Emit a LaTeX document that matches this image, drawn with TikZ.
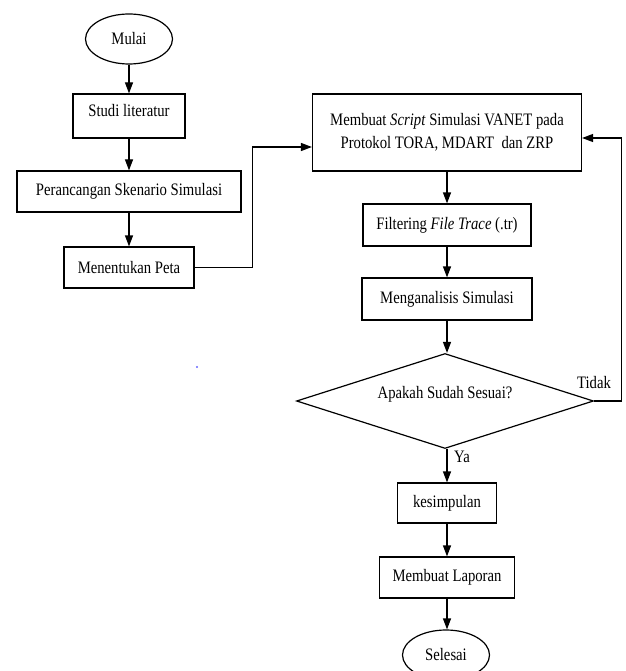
\documentclass[tikz,border=0pt]{standalone}
\usepackage{fontspec}
\setmainfont{Liberation Serif}[FakeStretch=0.84]
\usetikzlibrary{shapes.geometric, arrows.meta, calc}
\newcommand\flowfont{\fontsize{17.5}{23}\selectfont}

\begin{document}
\begin{tikzpicture}[x=1pt, y=-1pt,
  box/.style={draw, line width=1.2pt, rectangle, inner sep=0pt, font=\flowfont, align=center},
  terminal/.style={draw, line width=1.2pt, ellipse, inner sep=0pt, minimum width=87pt, minimum height=50pt, font=\flowfont},
  decision/.style={draw, line width=1.2pt, diamond, aspect=3.1, inner sep=0pt, minimum width=297pt, minimum height=95pt, font=\flowfont},
  arr/.style={line width=1.2pt, -{Triangle[length=11pt, width=8pt]}},
  lbl/.style={font=\flowfont}]
  \useasboundingbox (0,0) rectangle (625,671);

  % Left column
  \node[terminal] (mulai) at (129,39) {Mulai};
  \node[box, minimum width=112pt, minimum height=44pt, text depth=12pt] (studi) at (129,116) {Studi literatur};
  \node[box, minimum width=224pt, minimum height=41pt] (rancang) at (129,191.5) {Perancangan Skenario Simulasi};
  \node[box, minimum width=130pt, minimum height=41pt] (peta) at (129,267.5) {Menentukan Peta};

  % Right column
  \node[box, minimum width=269pt, minimum height=77pt] (script) at (447,132.5)
    {Membuat \textit{Script} Simulasi VANET pada\\Protokol TORA, MDART\ \ dan ZRP};
  \node[box, minimum width=168pt, minimum height=42pt] (filter) at (447,225) {Filtering \textit{File Trace} (.tr)};
  \node[box, minimum width=170pt, minimum height=42pt] (analisis) at (447,299) {Menganalisis Simulasi};
  \node[decision, text depth=18pt] (cek) at (445,401) {Apakah Sudah Sesuai?};
  \node[box, minimum width=99pt, minimum height=40pt] (simpul) at (447,503) {kesimpulan};
  \node[box, minimum width=135pt, minimum height=41pt] (lapor) at (447,577.5) {Membuat Laporan};
  \node[terminal] (selesai) at (446,655) {Selesai};

  % Labels
  \node[lbl] (tidak) at (594,383) {Tidak};
  \node[lbl] (ya) at (462,457) {Ya};

  % Connectors
  \draw[arr] (mulai) -- (studi);
  \draw[arr] (studi) -- (rancang);
  \draw[arr] (rancang) -- (peta);
  \draw[arr] (peta.east) -- ++(58,0) |- ($(script.west)+(0,14.5)$);
  \draw[arr] (script.south -| analisis) -- (filter.north);
  \draw[arr] (filter) -- (analisis);
  \draw[arr] (analisis.south) -- (analisis.south |- cek.north);
  \draw[arr] (cek.south -| simpul) -- (simpul.north);
  \draw[arr] (simpul) -- (lapor);
  \draw[arr] (lapor.south) -- (lapor.south |- selesai.north);
  \draw[arr] (cek.east) -- ++(27,0) |- ($(script.east)+(0,5.5)$);

  % stray mark
  \fill[blue!60] (197,367) circle (1.2);
\end{tikzpicture}
\end{document}
